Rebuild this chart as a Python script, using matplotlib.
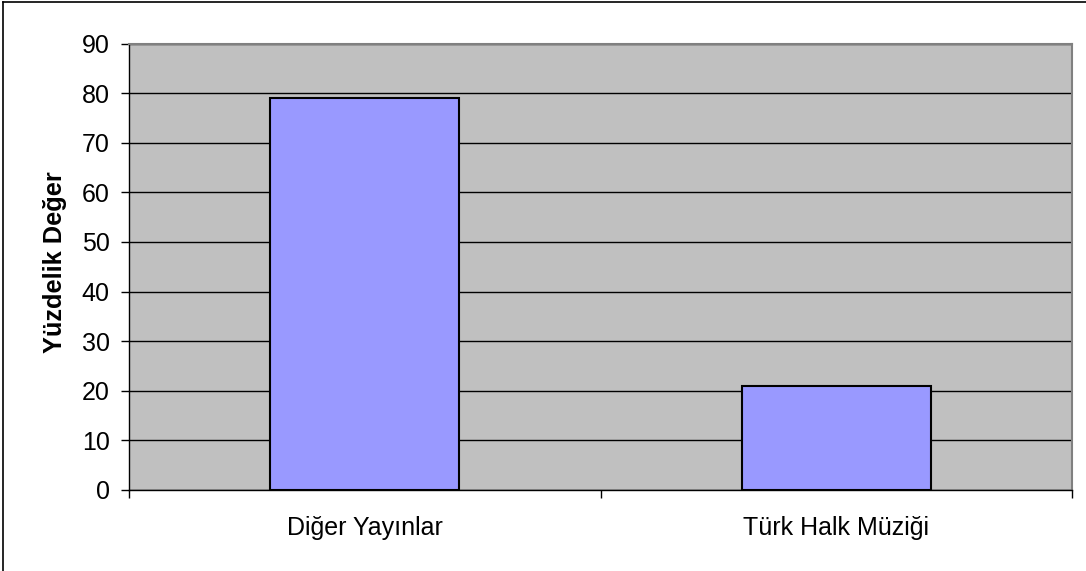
import numpy as np
import matplotlib.pyplot as plt
from matplotlib.lines import Line2D

plt.rcParams['font.family'] = ['Liberation Sans', 'DejaVu Sans']

# veriler
categories = ['Diğer Yayınlar', 'Türk Halk Müziği']
values = [79, 21]
y_ticks = np.arange(0, 91, 10)

fig = plt.figure(figsize=(10.86, 5.71), dpi=100)
ax = fig.add_axes([0.1188, 0.1419, 0.8683, 0.7819])
ax.set_facecolor('#C0C0C0')

x = np.arange(len(categories))
ax.bar(x, values, width=0.4, color='#9999FF', edgecolor='black', linewidth=1.5, zorder=3)

ax.set_xlim(-0.5, len(categories) - 0.5)
ax.set_ylim(0, 90)
ax.set_yticks(y_ticks)
ax.tick_params(axis='y', direction='out', length=6, width=1, pad=8, labelsize=18)
ax.yaxis.grid(True, color='black', linewidth=1, zorder=1)
ax.set_axisbelow(True)

# x ekseni: kategori sınırlarında tik, etiketler ortada
ax.set_xticks(np.arange(len(categories) + 1) - 0.5)
ax.set_xticklabels([])
ax.set_xticks(x, minor=True)
ax.set_xticklabels(categories, minor=True)
ax.tick_params(axis='x', which='major', direction='out', length=6, width=1)
ax.tick_params(axis='x', which='minor', length=0, pad=19, labelsize=18)

ax.set_ylabel('Yüzdelik Değer', fontsize=18.3, fontweight='bold')
ax.yaxis.set_label_coords(-0.066, 0.51)

for s in ['left', 'bottom']:
    ax.spines[s].set_color('black')
    ax.spines[s].set_linewidth(1)
for s in ['top', 'right']:
    ax.spines[s].set_color('#808080')
    ax.spines[s].set_linewidth(1.5)

# dış çerçeve (üst ve sol)
fig.add_artist(Line2D([0.0025, 1], [0.9965, 0.9965], color='black', linewidth=1.2, transform=fig.transFigure))
fig.add_artist(Line2D([0.0025, 0.0025], [0, 0.9965], color='black', linewidth=1.2, transform=fig.transFigure))

fig.savefig('out.png', dpi=100)
